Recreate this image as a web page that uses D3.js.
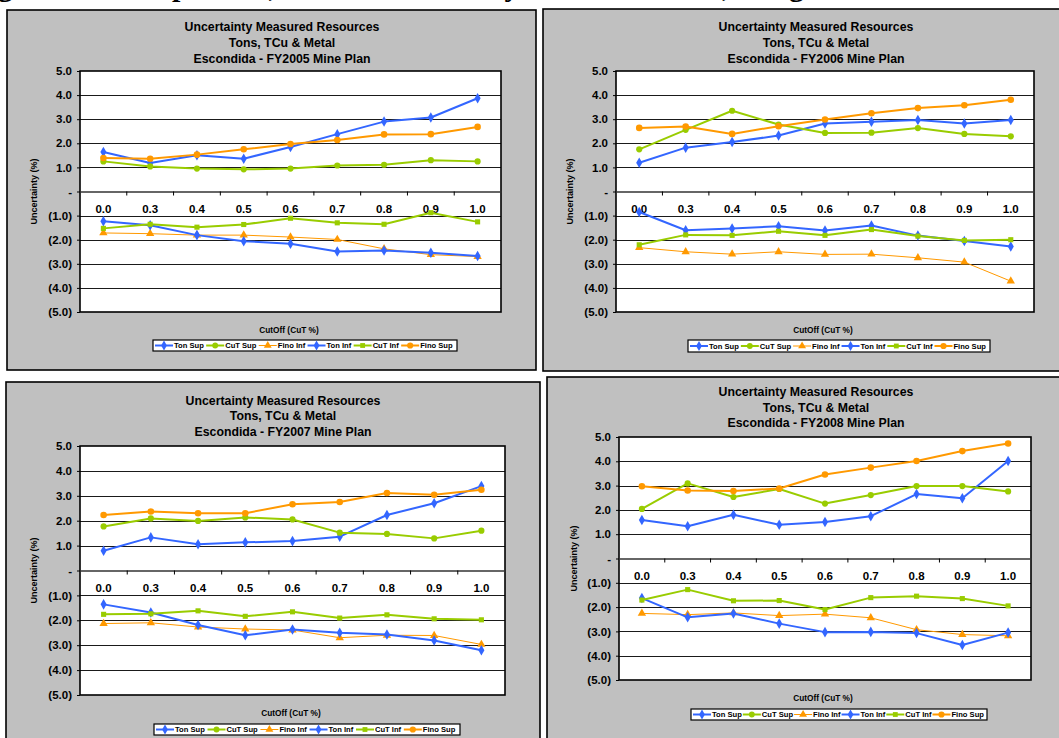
<!DOCTYPE html>
<html><head><meta charset="utf-8">
<script src="https://cdn.jsdelivr.net/npm/d3@7"></script>
<style>
body{margin:0;background:#fff}
svg{display:block}
text{font-family:"Liberation Sans",Arial,sans-serif;font-weight:bold;fill:#000}
</style></head>
<body><svg id="c" width="1059" height="738"></svg>
<script>
// ---------- DATA ----------
const categories = ["0.0","0.3","0.4","0.5","0.6","0.7","0.8","0.9","1.0"];
const seriesNames = ["Ton Sup","CuT Sup","Fino Inf","Ton Inf","CuT Inf","Fino Sup"];
const yTickValues = [5,4,3,2,1,0,-1,-2,-3,-4,-5];
const yTickLabels = ["5.0","4.0","3.0","2.0","1.0","-","(1.0)","(2.0)","(3.0)","(4.0)","(5.0)"];
const titleLines = ["Uncertainty Measured Resources","Tons, TCu & Metal"];
const panelYears = ["Escondida - FY2005 Mine Plan","Escondida - FY2006 Mine Plan","Escondida - FY2007 Mine Plan","Escondida - FY2008 Mine Plan"];
const yAxisTitle = "Uncertainty (%)";
const xAxisTitle = "CutOff (CuT %)";
const heading = "Figure 10: Comparison, Metal Uncertainty Measured Tons, Long Term Mine Plans";

// FY2005
const tonSup2005  = [1.64,1.18,1.50,1.36,1.85,2.38,2.90,3.07,3.87];
const cutSup2005  = [1.25,1.04,0.95,0.92,0.95,1.08,1.11,1.30,1.25];
const finoInf2005 = [-1.72,-1.75,-1.81,-1.81,-1.89,-1.99,-2.38,-2.62,-2.70];
const tonInf2005  = [-1.23,-1.40,-1.81,-2.06,-2.17,-2.49,-2.45,-2.54,-2.68];
const cutInf2005  = [-1.53,-1.36,-1.48,-1.37,-1.11,-1.30,-1.36,-0.88,-1.26];
const finoSup2005 = [1.39,1.36,1.53,1.75,1.97,2.14,2.37,2.38,2.68];
// FY2006
const tonSup2006  = [1.19,1.82,2.05,2.32,2.82,2.89,2.97,2.82,2.97];
const cutSup2006  = [1.75,2.56,3.35,2.78,2.43,2.44,2.63,2.39,2.29];
const finoInf2006 = [-2.33,-2.50,-2.60,-2.50,-2.61,-2.60,-2.75,-2.93,-3.72];
const tonInf2006  = [-0.85,-1.61,-1.54,-1.44,-1.62,-1.41,-1.83,-2.05,-2.28];
const cutInf2006  = [-2.21,-1.80,-1.82,-1.65,-1.82,-1.58,-1.85,-2.03,-2.00];
const finoSup2006 = [2.64,2.70,2.39,2.71,2.99,3.25,3.46,3.58,3.81];
// FY2007
const tonSup2007  = [0.79,1.33,1.05,1.13,1.18,1.36,2.23,2.70,3.39];
const cutSup2007  = [1.77,2.09,1.99,2.13,2.05,1.52,1.47,1.29,1.60];
const finoInf2007 = [-2.13,-2.10,-2.27,-2.35,-2.39,-2.70,-2.60,-2.61,-2.97];
const tonInf2007  = [-1.36,-1.69,-2.19,-2.60,-2.37,-2.50,-2.57,-2.81,-3.20];
const cutInf2007  = [-1.76,-1.74,-1.62,-1.84,-1.66,-1.91,-1.78,-1.94,-1.98];
const finoSup2007 = [2.23,2.37,2.30,2.30,2.66,2.75,3.11,3.04,3.24];
// FY2008
const tonSup2008  = [1.58,1.33,1.80,1.39,1.50,1.74,2.65,2.48,4.01];
const cutSup2008  = [2.04,3.09,2.53,2.86,2.26,2.61,2.98,2.98,2.76];
const finoInf2008 = [-2.26,-2.31,-2.24,-2.35,-2.29,-2.44,-2.93,-3.13,-3.18];
const tonInf2008  = [-1.63,-2.42,-2.26,-2.68,-3.03,-3.02,-3.07,-3.56,-3.05];
const cutInf2008  = [-1.71,-1.28,-1.74,-1.73,-2.10,-1.61,-1.55,-1.65,-1.95];
const finoSup2008 = [2.97,2.80,2.78,2.88,3.46,3.74,4.01,4.42,4.73];

const panelSeries = [
  [tonSup2005,cutSup2005,finoInf2005,tonInf2005,cutInf2005,finoSup2005],
  [tonSup2006,cutSup2006,finoInf2006,tonInf2006,cutInf2006,finoSup2006],
  [tonSup2007,cutSup2007,finoInf2007,tonInf2007,cutInf2007,finoSup2007],
  [tonSup2008,cutSup2008,finoInf2008,tonInf2008,cutInf2008,finoSup2008]
];

// ---------- STYLE / LAYOUT ----------
const BLUE="#3366FF", GREEN="#99CC00", ORANGE="#FF9900";
const seriesStyle = [
  {color:BLUE,  width:2, sym:d3.symbolDiamond,  size:32},
  {color:GREEN, width:2, sym:d3.symbolCircle,   size:30},
  {color:ORANGE,width:1, sym:d3.symbolTriangle, size:30},
  {color:BLUE,  width:2, sym:d3.symbolDiamond,  size:32},
  {color:GREEN, width:2, sym:d3.symbolSquare,   size:26},
  {color:ORANGE,width:2, sym:d3.symbolCircle,   size:34}
];

const layouts = [
  {frame:{x:7,y:10,w:529,h:360},  plot:{l:80,r:501,t:71,b:312},  titleX:282, titleY:[27,43,59],
   yTitleX:34, xTitleX:289, xTitleY:330, legend:{x:153,y:340,w:304,h:11}},
  {frame:{x:543,y:9,w:530,h:362}, plot:{l:616,r:1034,t:71,b:312}, titleX:816, titleY:[27,43,59],
   yTitleX:570, xTitleX:823, xTitleY:330, legend:{x:688,y:340,w:302,h:12}},
  {frame:{x:6,y:382,w:534,h:370}, plot:{l:80,r:505,t:446,b:695}, titleX:283, titleY:[401,416,432],
   yTitleX:34, xTitleX:291, xTitleY:713, legend:{x:154,y:724,w:306,h:11}},
  {frame:{x:547,y:377,w:530,h:375}, plot:{l:619,r:1031,t:437,b:680}, titleX:816, titleY:[392,408,423],
   yTitleX:574, xTitleX:823, xTitleY:698, legend:{x:691,y:709,w:296,h:11}}
];

const svg = d3.select("#c");

// clipped page heading (only descenders visible)
svg.append("text").attr("x",-29).attr("y",-4.5)
  .style("font-family","'Liberation Serif','Times New Roman',serif")
  .style("font-size","30px").text(heading);

layouts.forEach((L,i)=>drawPanel(L, panelSeries[i], panelYears[i]));

function drawPanel(L, data, yearTitle){
  const g = svg.append("g");
  g.append("rect").attr("x",L.frame.x).attr("y",L.frame.y).attr("width",L.frame.w).attr("height",L.frame.h)
    .attr("fill","#C0C0C0").attr("stroke","#000").attr("stroke-width",1.6);

  const P = L.plot;
  const x = d3.scaleBand().domain(categories).range([P.l,P.r]);
  const y = d3.scaleLinear().domain([-5,5]).range([P.b,P.t]);

  g.append("rect").attr("x",P.l).attr("y",P.t).attr("width",P.r-P.l).attr("height",P.b-P.t).attr("fill","#fff");

  // gridlines
  g.append("g").selectAll("line").data(yTickValues.filter(v=>v!==0 && Math.abs(v)!==5)).join("line")
    .attr("x1",P.l).attr("x2",P.r).attr("y1",d=>Math.round(y(d))+0.5).attr("y2",d=>Math.round(y(d))+0.5)
    .attr("stroke","#1a1a1a").attr("stroke-width",1);

  // y axis
  const yAxis = d3.axisLeft(y).tickValues(yTickValues).tickSize(3).tickPadding(5)
    .tickFormat((d,k)=>yTickLabels[yTickValues.indexOf(d)]);
  const ya = g.append("g").attr("transform",`translate(${P.l},0)`).call(yAxis);
  ya.select(".domain").remove();
  ya.selectAll("line").attr("stroke","#000");
  ya.selectAll("text").style("font-size","11.5px").style("font-family","'Liberation Sans',Arial,sans-serif").attr("fill","#000");

  // plot border
  g.append("rect").attr("x",P.l).attr("y",P.t).attr("width",P.r-P.l).attr("height",P.b-P.t)
    .attr("fill","none").attr("stroke","#000").attr("stroke-width",1.6);

  // x axis at zero
  const y0 = y(0);
  const xAxis = d3.axisBottom(x).tickSize(0).tickPadding(0);
  const xa = g.append("g").attr("transform",`translate(0,${y0})`).call(xAxis);
  xa.select(".domain").attr("stroke","#333").attr("stroke-width",1.4);
  xa.selectAll("text").attr("y",17.5).attr("dy","0.35em").style("font-size","11.5px")
    .style("font-family","'Liberation Sans',Arial,sans-serif").attr("fill","#000");
  // category boundary ticks
  const bounds = categories.slice(1).map(c=>x(c));
  g.append("g").selectAll("line").data(bounds).join("line")
    .attr("x1",d=>d).attr("x2",d=>d).attr("y1",y0).attr("y2",y0+4).attr("stroke","#000").attr("stroke-width",1);

  // series
  const cx = c=>x(c)+x.bandwidth()/2;
  data.forEach((vals,s)=>{
    const st = seriesStyle[s];
    const pts = vals.map((v,k)=>[cx(categories[k]), y(v)]);
    g.append("path").attr("d",d3.line()(pts)).attr("fill","none").attr("stroke",st.color)
      .attr("stroke-width",st.width).attr("stroke-linejoin","round");
    g.append("g").selectAll("path").data(pts).join("path")
      .attr("transform",d=>`translate(${d[0]},${d[1]})`)
      .attr("d",d3.symbol().type(st.sym).size(st.size)).attr("fill",st.color);
  });

  // titles
  const tl = titleLines.concat([yearTitle]);
  tl.forEach((t,k)=>g.append("text").attr("x",L.titleX).attr("y",L.titleY[k]).attr("dy","0.35em")
    .attr("text-anchor","middle").style("font-size","12.3px").text(t));

  g.append("text").attr("transform",`translate(${L.yTitleX},${(P.t+P.b)/2}) rotate(-90)`)
    .attr("dy","0.35em").attr("text-anchor","middle").style("font-size","9px").text(yAxisTitle);
  g.append("text").attr("x",L.xTitleX).attr("y",L.xTitleY).attr("dy","0.35em")
    .attr("text-anchor","middle").style("font-size","8.3px").text(xAxisTitle);

  // legend
  const Lg = L.legend;
  const lg = g.append("g");
  lg.append("rect").attr("x",Lg.x).attr("y",Lg.y).attr("width",Lg.w).attr("height",Lg.h)
    .attr("fill","#fff").attr("stroke","#000").attr("stroke-width",1.2);
  const items = seriesNames.map((n,s)=>{
    const t = lg.append("text").attr("y",Lg.y+Lg.h/2).attr("dy","0.35em").style("font-size","7.6px").text(n);
    return {t, w:t.node().getComputedTextLength(), s};
  });
  const lineW = 18, inner = 1;
  const natural = d3.sum(items,d=>lineW+inner+d.w);
  const gap = (Lg.w - 4 - natural)/items.length;
  let sx = Lg.x + 2;
  const cy = Lg.y + Lg.h/2;
  items.forEach(it=>{
    const st = seriesStyle[it.s];
    lg.append("line").attr("x1",sx).attr("x2",sx+lineW).attr("y1",cy).attr("y2",cy)
      .attr("stroke",st.color).attr("stroke-width",st.width);
    lg.append("path").attr("transform",`translate(${sx+lineW/2},${cy})`)
      .attr("d",d3.symbol().type(st.sym).size(st.size*0.9)).attr("fill",st.color);
    it.t.attr("x",sx+lineW+inner);
    sx += lineW + inner + it.w + gap;
  });
}
</script></body></html>
